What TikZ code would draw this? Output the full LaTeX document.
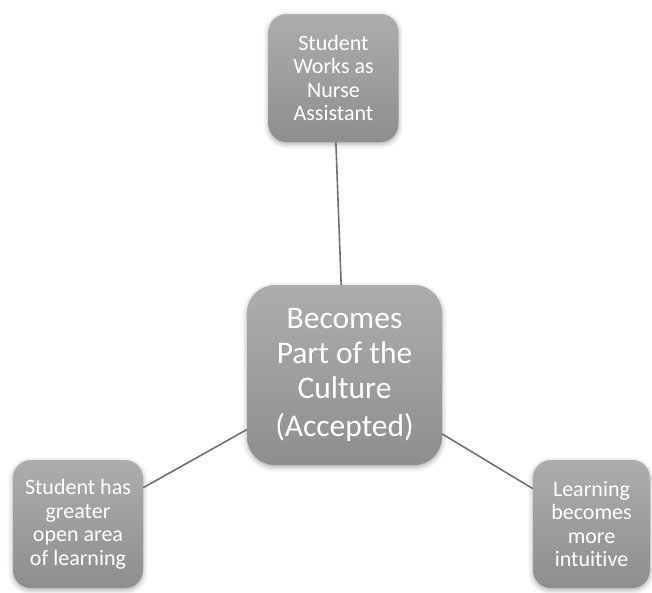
\documentclass[tikz,border=0pt]{standalone}
\usepackage{fontspec}
\setmainfont{Carlito}[Ligatures=NoCommon]
\usetikzlibrary{shadows.blur}

\begin{document}
\begin{tikzpicture}[x=1pt,y=-1pt,
  box/.style={rectangle,rounded corners=18pt,top color=boxtop,bottom color=boxbot,
    draw=none,text=white,align=center,inner sep=0pt,
    blur shadow={shadow xshift=0pt,shadow yshift=-2pt,shadow blur radius=5pt,shadow opacity=35}},
  small/.style={box,minimum width=130pt,minimum height=128pt,
    font=\fontsize{22}{23.5}\selectfont},
  big/.style={box,rounded corners=28pt,minimum width=195pt,minimum height=180pt,
    font=\fontsize{31.5}{35}\selectfont},
  link/.style={draw=linegray,line width=1.6pt}]

\definecolor{boxtop}{HTML}{ADADAD}
\definecolor{boxbot}{HTML}{8E8E8E}
\definecolor{linegray}{HTML}{707070}
\useasboundingbox (0,0) rectangle (652,592);

\node[big] (mid) at (344.5,375) {Becomes\\Part of the\\Culture\\[3pt](Accepted)};
\node[small] (nurse) at (333.5,78) {Student\\Works as\\Nurse\\Assistant};
\node[small] (open) at (78,524) {Student has\\greater\\open area\\of learning};
\node[small,minimum width=117pt] (intuit) at (591.5,524) {Learning\\becomes\\more\\intuitive};

\path
(mid) edge[link] (nurse)
      edge[link] (open)
      edge[link] (intuit)
;
\end{tikzpicture}
\end{document}
